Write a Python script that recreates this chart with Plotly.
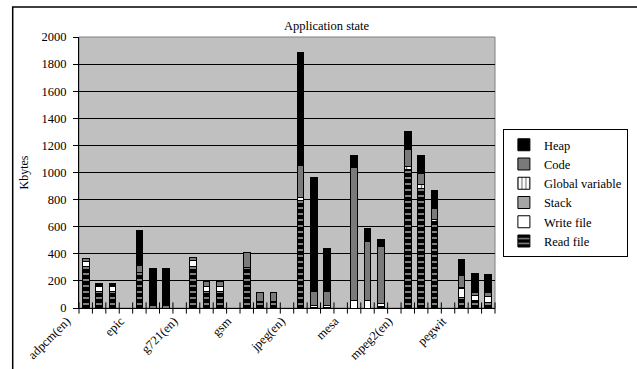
import plotly.graph_objects as go

# ---- data (Kbytes) ----
programs = ["adpcm(en)", "epic", "g721(en)", "gsm", "jpeg(en)", "mesa", "mpeg2(en)", "pegwit"]
bars_per_program = 3
slots_per_program = 4  # 3 bars + 1 empty slot between programs

read_file = [305, 122, 122, 263, 0, 0, 305, 122, 122, 298, 40, 40,
             797, 5, 5, 0, 0, 10, 1020, 880, 635, 75, 52, 44]
write_file = [40, 38, 38, 0, 0, 0, 45, 38, 38, 0, 8, 8,
              18, 15, 15, 57, 52, 22, 0, 0, 0, 70, 42, 42]
stack = [0, 0, 0, 0, 0, 0, 0, 0, 0, 0, 0, 0,
         0, 0, 0, 0, 0, 0, 0, 0, 0, 0, 0, 0]
global_variable = [0, 0, 0, 0, 0, 0, 0, 0, 0, 0, 0, 0,
                   0, 0, 0, 0, 0, 0, 28, 30, 20, 10, 0, 0]
code = [24, 5, 5, 50, 20, 20, 24, 32, 32, 110, 66, 66,
        236, 105, 105, 979, 438, 423, 121, 80, 79, 85, 24, 25]
heap = [0, 17, 17, 260, 268, 268, 0, 0, 0, 0, 0, 0,
        831, 837, 316, 93, 98, 52, 135, 132, 135, 119, 136, 135]

y_ticks = list(range(0, 2001, 200))

# ---- positions derived from the category structure ----
x_pos = [p * slots_per_program + b for p in range(len(programs)) for b in range(bars_per_program)]
n_slots = (len(programs) - 1) * slots_per_program + bars_per_program  # no empty slot after last
label_pos = [p * slots_per_program for p in range(len(programs))]
boundaries = [i - 0.5 for i in range(n_slots + 1)]

def nz(vals):
    return [v if v else None for v in vals]

FONT = "Liberation Serif, Times New Roman, serif"
OUT = dict(color="black", width=1)
BW = 0.5

fig = go.Figure()
fig.add_trace(go.Bar(name="Read file", x=x_pos, y=nz(read_file), width=BW,
                     marker=dict(color="black", line=OUT,
                                 pattern=dict(shape="-", fgcolor="white", size=6, solidity=0.33))))
fig.add_trace(go.Bar(name="Write file", x=x_pos, y=nz(write_file), width=BW,
                     marker=dict(color="white", line=OUT)))
fig.add_trace(go.Bar(name="Stack", x=x_pos, y=nz(stack), width=BW,
                     marker=dict(color="#a6a6a6", line=OUT)))
fig.add_trace(go.Bar(name="Global variable", x=x_pos, y=nz(global_variable), width=BW,
                     marker=dict(color="white", line=OUT,
                                 pattern=dict(shape="|", fgcolor="black", size=5, solidity=0.3))))
fig.add_trace(go.Bar(name="Code", x=x_pos, y=nz(code), width=BW,
                     marker=dict(color="#7a7a7a", line=OUT)))
fig.add_trace(go.Bar(name="Heap", x=x_pos, y=nz(heap), width=BW,
                     marker=dict(color="black", line=OUT)))

# crossing category tick marks on the x axis
fig.add_trace(go.Scatter(x=boundaries, y=[0] * len(boundaries), mode="markers",
                         marker=dict(symbol="line-ns", size=8, line=dict(color="black", width=1)),
                         cliponaxis=False, showlegend=False, hoverinfo="skip"))

fig.update_layout(
    width=637, height=369,
    margin=dict(l=79, r=142, t=37, b=61, autoexpand=False),
    paper_bgcolor="white", plot_bgcolor="#c0c0c0",
    barmode="stack",
    font=dict(family=FONT, size=12, color="black"),
    showlegend=True,
    legend=dict(x=1.019, y=0.66, xanchor="left", yanchor="top",
                traceorder="reversed", bordercolor="black", borderwidth=1,
                bgcolor="white", font=dict(family=FONT, size=12.5)),
    xaxis=dict(range=[-0.5, n_slots - 0.5], tickmode="array", tickvals=label_pos,
               ticktext=programs, tickangle=-45, ticks="", ticklabelshift=-19,
               showgrid=False,
               showline=True, linecolor="black", linewidth=1, zeroline=False,
               automargin=False, tickfont=dict(family=FONT, size=12.5)),
    yaxis=dict(range=[0, 2000], tickmode="array", tickvals=y_ticks,
               ticks="outside", ticklen=5, tickcolor="black", ticklabelstandoff=4,
               showgrid=True, gridcolor="black", gridwidth=1,
               showline=True, linecolor="black", linewidth=1, zeroline=False,
               automargin=False, tickfont=dict(family=FONT, size=12.5)),
    shapes=[
        dict(type="rect", xref="paper", yref="paper", x0=0, x1=1, y0=0, y1=1,
             line=dict(color="#808080", width=1), layer="below"),
        dict(type="rect", xref="paper", yref="paper", x0=(12.7 - 79) / 416, x1=(645 - 79) / 416,
             y0=-0.3, y1=(307.7 - 6.7) / 271, line=dict(color="black", width=1.5)),
    ],
    annotations=[
        dict(text="Application state", xref="paper", yref="paper",
             x=(326.5 - 79) / 416, y=(307.7 - 26) / 271, showarrow=False,
             xanchor="center", yanchor="middle", font=dict(family=FONT, size=12.5)),
        dict(text="Kbytes", xref="paper", yref="paper",
             x=(23 - 79) / 416, y=0.5, showarrow=False, textangle=-90,
             xanchor="center", yanchor="middle", font=dict(family=FONT, size=12)),
    ],
)

fig.write_html("out.html", config={"displayModeBar": False},
               post_script="document.body.style.margin='0';document.body.style.overflow='hidden';")
